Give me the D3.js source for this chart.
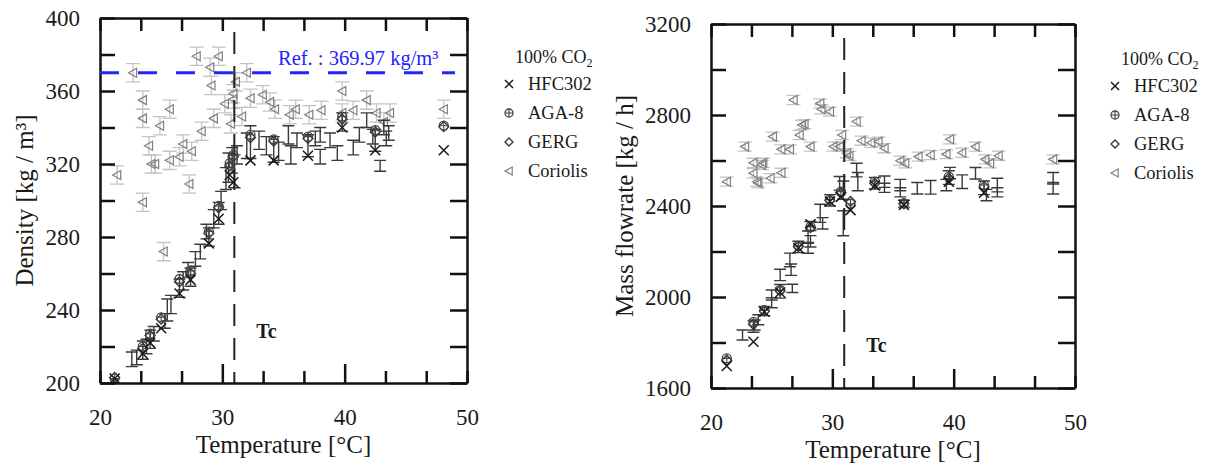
<!DOCTYPE html>
<html>
<head>
<meta charset="utf-8">
<script src="https://cdn.jsdelivr.net/npm/d3@7"></script>
<style>
  body { margin: 0; background: #fff; }
  svg text { font-family: "Liberation Serif", "Times New Roman", serif; fill: #1a1a1a; }
</style>
</head>
<body>
<svg id="chart" width="1209" height="467"></svg>
<script>
// ---- density panel ----
var densTemp = [21.2, 23.5, 24.1, 25.0, 26.5, 27.4, 28.9, 29.7, 30.6, 30.9, 32.3, 34.2, 37.0, 39.8, 42.5, 48.1];
var densHfc  = [202.5, 216, 222, 230, 249, 256.5, 276.5, 290, 314, 310, 322, 322, 324.5, 340, 327.5, 327.5];
var densAga  = [202.5, 220, 227, 236, 257, 261.5, 283, 297, 320.5, 325, 336, 333.5, 335, 346, 338.5, 341];
var densGerg = [203, 219, 226, 235, 255.5, 260, 282, 296, 319, 324, 334.5, 332.5, 334, 344.5, 337.5, 340.5];
// measured [T, value, half error]
var densMeas = [
  [22.6,213,4],[23.0,214,4],[23.5,218,5],[23.8,220,4],[24.1,224,5],[24.4,227,4],[25.3,234,4],[25.5,240,6],
  [25.8,243,5],[26.5,252,5],[26.8,256,5],[27.2,262,4],[27.4,258,5],[27.8,268,4],[28.2,272,4],[28.7,283,4],
  [28.9,280,5],[29.3,290,5],[29.7,293,6],[29.9,300,5],[30.3,312,6],[30.5,318,8],[30.8,322,7],[31.0,316,9],
  [31.2,325,5],[32.0,330,7],[32.3,332,9],[33.0,333,5],[33.6,330,5],[34.2,328,7],[34.6,327,5],[35.4,336,5],
  [35.6,325,5],[36.1,333,4],[37.0,330,6],[37.6,334,4],[38.0,324,4],[38.0,336,4],[38.8,333,4],[39.4,326,4],
  [39.8,343,5],[40.7,329,4],[41.2,336,4],[41.8,344,4],[42.3,335,4],[42.5,333,6],[42.9,319,3],[43.2,340,4],
  [43.4,334,4],[43.6,337,4]
];
var densCoriolis = [
  [21.4,314],[22.7,370],[23.5,355],[23.5,345],[23.5,299],[24.0,330],[24.2,320],[24.5,320],[24.9,341],
  [25.2,272],[25.7,350],[25.7,322],[26.5,324],[26.8,331],[27.3,309],[27.5,327],[27.9,379],[28.3,338],
  [29.0,373],[29.1,363],[29.3,345],[29.7,379],[30.2,353],[30.7,342],[30.9,358.5],[30.9,355.5],[31.1,365],
  [31.6,346],[32.0,370],[32.3,356],[33.3,358],[33.9,354],[34.3,350],[35.5,347],[36.0,350],[37.1,347],
  [38.1,349.5],[39.8,360],[39.8,348],[40.7,349.5],[41.8,355],[42.6,348],[43.2,343],[43.7,348],[48.1,350]
];
var densRef = 369.97;

// ---- mass flowrate panel ----
var flowTemp = [21.3, 23.5, 24.4, 25.7, 27.2, 28.2, 29.8, 30.7, 31.5, 33.5, 35.9, 39.6, 42.5];
var flowHfc  = [1697, 1803, 1935, 2020, 2215, 2320, 2420, 2440, 2382, 2490, 2405, 2507, 2458];
var flowAga  = [1730, 1891, 1942, 2031, 2225, 2309, 2429, 2463, 2410, 2507, 2412, 2529, 2492];
var flowGerg = [1722, 1880, 1938, 2028, 2222, 2305, 2425, 2458, 2420, 2500, 2410, 2522, 2485];
var flowMeas = [
  [22.6,1833,22],[23.5,1870,25],[23.6,1877,22],[23.9,1900,22],[24.4,1938,20],[25.0,2009,22],[25.0,1975,22],
  [25.7,2097,25],[25.7,2025,30],[26.5,2163,30],[26.6,2120,25],[26.7,2038,18],[27.2,2220,25],[28.0,2214,22],
  [28.2,2245,25],[28.0,2265,25],[28.2,2312,20],[29.0,2368,40],[29.2,2324,25],[29.8,2425,25],[30.6,2500,30],
  [30.9,2324,55],[30.9,2470,40],[32.0,2558,30],[32.1,2507,40],[33.5,2500,25],[34.3,2507,25],[34.3,2480,20],
  [35.6,2492,25],[35.6,2460,20],[35.9,2410,15],[37.0,2478,25],[38.1,2482,30],[39.4,2492,25],[39.6,2525,30],
  [39.7,2545,25],[40.7,2507,30],[41.8,2544,25],[42.5,2480,30],[42.7,2448,25],[43.6,2492,30],[43.6,2460,20],
  [48.2,2522,25],[48.2,2478,25]
];
var flowCoriolis = [
  [21.3,2507],[22.8,2661],[23.5,2590],[23.5,2544],[23.8,2507],[23.9,2500],[24.2,2580],[24.3,2590],[24.9,2522],
  [25.1,2705],[25.8,2649],[25.8,2546],[26.5,2649],[26.8,2866],[27.3,2712],[27.5,2756],[27.7,2760],[28.2,2661],
  [29.0,2851],[29.1,2825],[29.8,2815],[30.1,2661],[30.6,2661],[30.8,2712],[31.2,2632],[31.4,2620],[32.0,2771],
  [32.4,2687],[33.2,2678],[33.8,2683],[34.3,2654],[35.6,2599],[36.0,2588],[37.1,2617],[38.1,2624],[39.4,2628],
  [39.7,2693],[40.7,2634],[41.8,2661],[42.6,2605],[43.0,2588],[43.7,2621],[48.2,2605]
];

var criticalTemp = 30.98;
var legendNames = ["HFC302", "AGA-8", "GERG", "Coriolis"];
var xTicks = d3.range(0, 10).map(function(i) { return 20 + i * 10 / 3; });

var svg = d3.select("#chart");

var markers = {
  cross: function(g, s) {
    g.append("path").attr("d", "M" + -s + "," + -s + "L" + s + "," + s + "M" + -s + "," + s + "L" + s + "," + -s)
      .attr("stroke", "#1a1a1a").attr("stroke-width", 1.5).attr("fill", "none");
  },
  oplus: function(g, s) {
    g.append("circle").attr("r", s).attr("stroke", "#444").attr("stroke-width", 1.3).attr("fill", "none");
    g.append("path").attr("d", "M" + -s + ",0H" + s + "M0," + -s + "V" + s)
      .attr("stroke", "#444").attr("stroke-width", 1.1);
  },
  diamond: function(g, s) {
    g.append("path").attr("d", "M0," + -s + "L" + s + ",0L0," + s + "L" + -s + ",0Z")
      .attr("stroke", "#333").attr("stroke-width", 1.3).attr("fill", "none");
  },
  triangle: function(g, s) {
    g.append("path").attr("d", "M" + -s + ",0L" + s * 0.8 + "," + -s + "L" + s * 0.8 + "," + s + "Z")
      .attr("stroke", "#808080").attr("stroke-width", 1.2).attr("fill", "none");
  }
};

function errBar(x, y1, y2, w) {
  return "M" + (x - w) + "," + y1 + "H" + (x + w) + "M" + x + "," + y1 + "V" + y2 + "M" + (x - w) + "," + y2 + "H" + (x + w);
}

var drawPanel = function drawPanel(p) {
  var x = d3.scaleLinear().domain([20, 50]).range([p.left, p.right]);
  var y = d3.scaleLinear().domain(p.yDomain).range([p.bottom, p.top]);
  var g = svg.append("g");

  // coriolis error bars + markers
  g.append("g").selectAll("path").data(p.coriolis).enter().append("path")
    .attr("d", function(d) { return errBar(x(d[0]), y(d[1] + p.corErr), y(d[1] - p.corErr), 7); })
    .attr("stroke", "#c4c4c4").attr("stroke-width", 1.3).attr("fill", "none");
  g.append("g").selectAll("g").data(p.coriolis).enter().append("g")
    .attr("transform", function(d) { return "translate(" + x(d[0]) + "," + y(d[1]) + ")"; })
    .each(function() { markers.triangle(d3.select(this), 4.5); });

  // measured error bars
  g.append("g").selectAll("path").data(p.meas).enter().append("path")
    .attr("d", function(d) { return errBar(x(d[0]), y(d[1] + d[2]), y(d[1] - d[2]), 6); })
    .attr("stroke", "#3a3a3a").attr("stroke-width", 1.4).attr("fill", "none");

  // critical temperature
  g.append("line")
    .attr("x1", x(criticalTemp)).attr("x2", x(criticalTemp))
    .attr("y1", p.top + 14).attr("y2", p.bottom)
    .attr("stroke", "#222").attr("stroke-width", 2).attr("stroke-dasharray", "22,12");
  g.append("text").attr("x", x(criticalTemp) + 22).attr("y", p.tcY)
    .attr("font-size", 20).attr("font-weight", "bold").text("Tc");

  // model markers
  var sets = [[p.gerg, "diamond", 5], [p.aga, "oplus", 4.5], [p.hfc, "cross", 5]];
  sets.forEach(function(s) {
    g.append("g").selectAll("g").data(p.temp).enter().append("g")
      .attr("transform", function(d, i) { return "translate(" + x(d) + "," + y(s[0][i]) + ")"; })
      .each(function() { markers[s[1]](d3.select(this), s[2]); });
  });

  // axes
  var fmt = function(d) { return Math.abs(Math.round(d / 10) * 10 - d) < 1e-6 ? Math.round(d) : ""; };
  var bottom = g.append("g").attr("transform", "translate(0," + p.bottom + ")")
    .call(d3.axisBottom(x).tickValues(xTicks).tickFormat(fmt).tickSizeInner(-12).tickSizeOuter(0).tickPadding(26));
  bottom.selectAll(".tick line").attr("y2", function(d) {
    return (Math.abs(d - 30) < 1e-6 || Math.abs(d - 40) < 1e-6) ? -19 : -12;
  });
  g.append("g").attr("transform", "translate(0," + p.top + ")")
    .call(d3.axisTop(x).tickValues(xTicks).tickFormat("").tickSizeInner(-13).tickSizeOuter(0));
  g.append("g").attr("transform", "translate(" + p.left + ",0)")
    .call(d3.axisLeft(y).tickValues(p.yTicks).tickFormat(function(d) {
      return (d - p.yDomain[0]) % p.yLabelStep === 0 ? d : "";
    }).tickSizeInner(-15).tickSizeOuter(0).tickPadding(20));
  g.append("g").attr("transform", "translate(" + p.right + ",0)")
    .call(d3.axisRight(y).tickValues(p.yTicks).tickFormat("").tickSizeInner(-17).tickSizeOuter(0));
  g.selectAll(".domain, .tick line").attr("stroke", "#111").attr("stroke-width", 2.5);
  g.selectAll(".tick text").attr("font-size", 23).attr("fill", "#1a1a1a")
    .style("font-family", "'Liberation Serif', 'Times New Roman', serif");

  // titles
  g.append("text").attr("x", (p.left + p.right) / 2).attr("y", p.xTitleY)
    .attr("text-anchor", "middle").attr("font-size", 25).text("Temperature [°C]");
  g.append("text").attr("transform", "translate(" + p.yTitleX + "," + (p.top + p.bottom) / 2 + ") rotate(-90)")
    .attr("text-anchor", "middle").attr("font-size", 25).text(p.yTitle);

  // legend
  var lg = g.append("g").attr("transform", "translate(" + p.legX + "," + p.legY + ")");
  var title = lg.append("text").attr("x", 6).attr("y", 0).attr("font-size", 18).text("100% CO");
  title.append("tspan").attr("font-size", 12).attr("dy", 4).text("2");
  ["cross", "oplus", "diamond", "triangle"].forEach(function(m, i) {
    var yy = 27 + i * 29;
    var mk = lg.append("g").attr("transform", "translate(0," + (yy - 6) + ")");
    markers[m](mk, 4);
    lg.append("text").attr("x", 19).attr("y", yy).attr("font-size", 18.5).text(legendNames[i]);
  });

  return { x: x, y: y, g: g };
};

var left = drawPanel({
  left: 100, right: 467, top: 18, bottom: 383,
  yDomain: [200, 400], yTicks: d3.range(200, 401, 20), yLabelStep: 40,
  temp: densTemp, hfc: densHfc, aga: densAga, gerg: densGerg,
  meas: densMeas, coriolis: densCoriolis, corErr: 5,
  tcY: 338, xTitleY: 453, yTitleX: 33, yTitle: "Density [kg / m³]",
  legX: 509, legY: 63
});

// reference density line
left.g.append("line")
  .attr("x1", 100).attr("x2", 455)
  .attr("y1", left.y(densRef)).attr("y2", left.y(densRef))
  .attr("stroke", "#2323ff").attr("stroke-width", 3).attr("stroke-dasharray", "19,19");
left.g.append("text").attr("x", 278).attr("y", 65).attr("font-size", 20.5)
  .style("fill", "#2323ff").text("Ref. : 369.97 kg/m³");

drawPanel({
  left: 711, right: 1075, top: 24, bottom: 388,
  yDomain: [1600, 3200], yTicks: d3.range(1600, 3201, 200), yLabelStep: 400,
  temp: flowTemp, hfc: flowHfc, aga: flowAga, gerg: flowGerg,
  meas: flowMeas, coriolis: flowCoriolis, corErr: 20,
  tcY: 352, xTitleY: 458, yTitleX: 633, yTitle: "Mass flowrate [kg / h]",
  legX: 1115, legY: 65
});
</script>
</body>
</html>
